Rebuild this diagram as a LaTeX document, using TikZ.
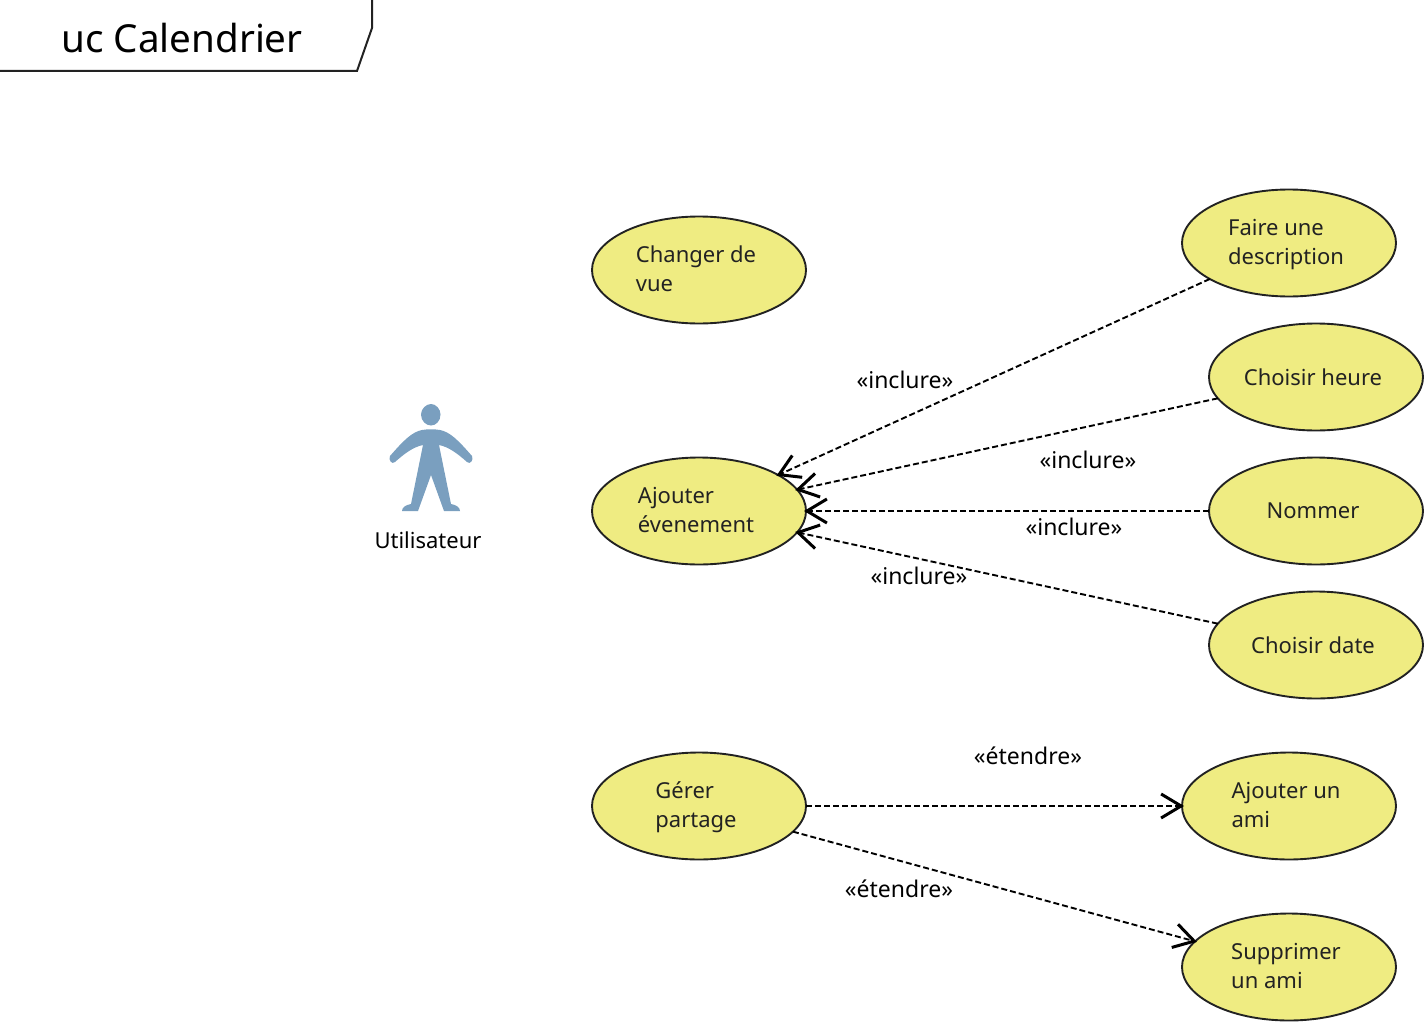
\documentclass[tikz,border=0pt]{standalone}
\usepackage{fontspec}
\setmainfont{Noto Sans}
\usetikzlibrary{shapes.geometric,arrows.meta}
\definecolor{ucfill}{HTML}{EFEC82}
\definecolor{ucline}{HTML}{222222}
\definecolor{actorblue}{HTML}{7A9FBF}
\newcommand{\pd}{\hspace*{6pt}}
\newcommand{\ts}{\rule{0pt}{23.5pt}}
\tikzset{
  usecase/.style={ellipse,draw=ucline,fill=ucfill,line width=1.9pt,minimum width=214pt,minimum height=107pt,inner sep=0pt,outer sep=0pt,align=left,font=\fontsize{22}{29}\selectfont,text=ucline},
  dep/.style={draw=black,line width=1.9pt,dash pattern=on 6pt off 3pt,shorten >=-2pt,-{Straight Barb[length=20pt,width=24pt,line width=3pt]}},
  lbl/.style={font=\fontsize{23}{29}\selectfont,inner sep=0pt},
}
\begin{document}
\begin{tikzpicture}[x=1pt,y=-1pt]
\useasboundingbox (0,0) rectangle (1424,1022);
% frame
\coordinate (f1) at (0,71);\coordinate (f2) at (357,71);\coordinate (f3) at (372,28);\coordinate (f4) at (372,0);
\draw[line width=2pt,ucline] (f1)--(f2)--(f3)--(f4);
\node[font=\fontsize{38.6}{50}\selectfont,inner sep=0pt] (title) at (182,38) {uc Calendrier};
% actor
\fill[actorblue] (431,404) .. controls (436,404) and (440.5,409) .. (440.5,414.5) .. controls (440.5,421) and (436,425.5) .. (431,425.5) .. controls (426,425.5) and (421,421) .. (421,414.5) .. controls (421,409) and (426,404) .. (431,404) -- cycle;
\fill[actorblue] (422,430) .. controls (428,429) and (434,429) .. (440,430) .. controls (450,432) and (458,440) .. (472,456) .. controls (474,460) and (470,465) .. (467,462) .. controls (458,454) and (449,447) .. (439,445)
 -- (451,504) .. controls (456,505) and (460,507) .. (460,511) -- (444,511) -- (431,475) -- (418,511) -- (402,511) .. controls (402,507) and (406,505) .. (411,504) -- (423,445)
 .. controls (413,447) and (404,454) .. (395,462) .. controls (392,465) and (388,460) .. (390,456) .. controls (404,440) and (412,432) .. (422,430) -- cycle;
\node[lbl,font=\fontsize{22}{29}\selectfont] (actor) at (428,540) {Utilisateur};
% use cases
\node[usecase] (vue) at (699,270) {\ts Changer de\pd\\\strut vue};
\node[usecase] (ajout) at (699,511) {\ts Ajouter\\\strut évenement\pd};
\node[usecase] (gerer) at (699,806) {\ts Gérer\\\strut partage\pd};
\node[usecase] (desc) at (1289,243) {\ts Faire une\\\strut description\pd};
\node[usecase] (heure) at (1316,377) {Choisir heure\pd};
\node[usecase] (nom) at (1316,511) {Nommer\pd};
\node[usecase] (date) at (1316,645) {Choisir date\pd};
\node[usecase] (ami) at (1289,806) {\ts Ajouter un\pd\\\strut ami};
\node[usecase] (suppr) at (1289,967) {\ts Supprimer\pd\\\strut un ami};
% connectors
\draw[dep] (desc)--(ajout);
\draw[dep] (heure)--(ajout);
\draw[dep] (nom)--(ajout);
\draw[dep] (date)--(ajout);
\draw[dep] (gerer)--(ami);
\draw[dep] (gerer)--(suppr);
% labels
\node[lbl] (l1) at (905,380) {«inclure»};
\node[lbl] (l2) at (1088,460) {«inclure»};
\node[lbl] (l3) at (1074,527) {«inclure»};
\node[lbl] (l4) at (919,576) {«inclure»};
\node[lbl] (l5) at (1028,756) {«étendre»};
\node[lbl] (l6) at (899,889) {«étendre»};
\end{tikzpicture}
\end{document}
